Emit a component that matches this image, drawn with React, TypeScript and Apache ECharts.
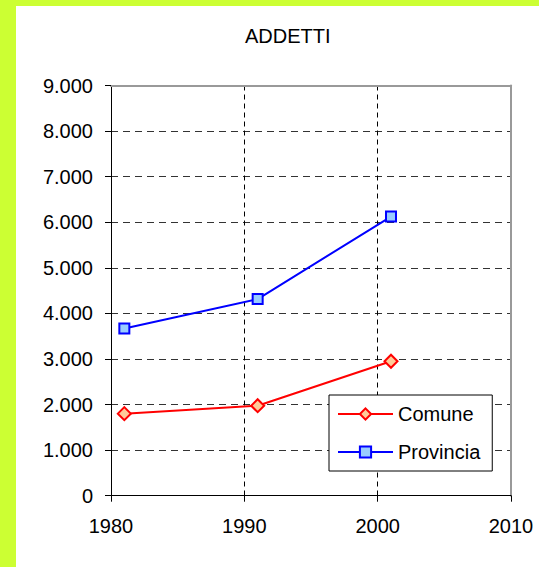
import React, { useEffect, useRef } from "react";
import * as echarts from "echarts";

const years = [1981, 1991, 2001];
const comune = [1800, 1975, 2950];
const provincia = [3670, 4315, 6125];
const xTicks = [1980, 1990, 2000, 2010];
const titleText = "ADDETTI";
const seriesNames = ["Comune", "Provincia"];

const FONT = "'Liberation Sans', Arial, sans-serif";

export default function App() {
  const ref = useRef<HTMLDivElement>(null);
  useEffect(() => {
    if (!ref.current) return;
    const chart = echarts.init(ref.current, null, { renderer: "svg" });
    const fmt = (v: number) =>
      v === 0 ? "0" : String(v).replace(/\B(?=(\d{3})+(?!\d))/g, ".");
    chart.setOption({
      animation: false,
      backgroundColor: "transparent",
      textStyle: { fontFamily: FONT },
      title: {
        text: titleText,
        left: 245,
        top: 26,
        padding: 0,
        textStyle: { fontFamily: FONT, fontSize: 20, fontWeight: "normal", color: "#000" },
      },
      grid: { left: 111, top: 85.5, right: 28, bottom: 71.3, containLabel: false },
      legend: {
        orient: "vertical",
        left: 329,
        top: 395,
        padding: [9, 12, 9, 8],
        itemGap: 18,
        itemWidth: 55,
        itemHeight: 14,
        backgroundColor: "#fff",
        borderColor: "#000",
        borderWidth: 1,
        z: 10,
        textStyle: { fontFamily: FONT, fontSize: 20, color: "#000" },
        data: seriesNames,
      },
      xAxis: [
        {
          type: "value",
          min: xTicks[0],
          max: xTicks[xTicks.length - 1],
          interval: 10,
          axisLine: { show: true, onZero: false, lineStyle: { color: "#000", width: 1 } },
          axisTick: { show: true, length: 6, lineStyle: { color: "#000" } },
          axisLabel: { margin: 20, fontSize: 20, color: "#000", fontFamily: FONT, formatter: (v: number) => String(v) },
          splitLine: { show: true, lineStyle: { color: "#000", type: [5, 4], width: 1 } },
        },
        {
          type: "value",
          position: "top",
          min: xTicks[0],
          max: xTicks[xTicks.length - 1],
          interval: 10,
          axisLine: { show: true, onZero: false, lineStyle: { color: "#999", width: 2 } },
          axisTick: { show: false },
          axisLabel: { show: false },
          splitLine: { show: false },
        },
      ],
      yAxis: [
        {
          type: "value",
          min: 0,
          max: 9000,
          interval: 1000,
          axisLine: { show: true, onZero: false, lineStyle: { color: "#000", width: 1 } },
          axisTick: { show: true, length: 6, lineStyle: { color: "#000" } },
          axisLabel: { margin: 18, fontSize: 20, color: "#000", fontFamily: FONT, formatter: fmt },
          splitLine: { show: true, lineStyle: { color: "#333", type: [7, 5], width: 1 } },
        },
        {
          type: "value",
          position: "right",
          min: 0,
          max: 9000,
          interval: 1000,
          axisLine: { show: true, onZero: false, lineStyle: { color: "#999", width: 2 } },
          axisTick: { show: false },
          axisLabel: { show: false },
          splitLine: { show: false },
        },
      ],
      series: [
        {
          name: seriesNames[0],
          type: "line",
          xAxisIndex: 0,
          yAxisIndex: 0,
          data: years.map((y, i) => [y, comune[i]]),
          symbol: "diamond",
          symbolSize: 13,
          lineStyle: { color: "#FF0000", width: 2 },
          itemStyle: { color: "#FFCC99", borderColor: "#FF0000", borderWidth: 2 },
          z: 3,
        },
        {
          name: seriesNames[1],
          type: "line",
          xAxisIndex: 0,
          yAxisIndex: 0,
          data: years.map((y, i) => [y, provincia[i]]),
          symbol: "rect",
          symbolSize: 10,
          lineStyle: { color: "#0000FF", width: 2 },
          itemStyle: { color: "#99CCFF", borderColor: "#0000FF", borderWidth: 2 },
          z: 3,
        },
      ],
    });
    return () => chart.dispose();
  }, []);

  return (
    <div style={{ position: "absolute", left: 0, top: 0, width: 539, height: 567, background: "#CCFF33", overflow: "hidden" }}>
      <div style={{ position: "absolute", left: 16, top: 6, width: 523, height: 561, background: "#fff" }} />
      <div ref={ref} style={{ position: "absolute", left: 0, top: 0, width: 539, height: 567 }} />
    </div>
  );
}
